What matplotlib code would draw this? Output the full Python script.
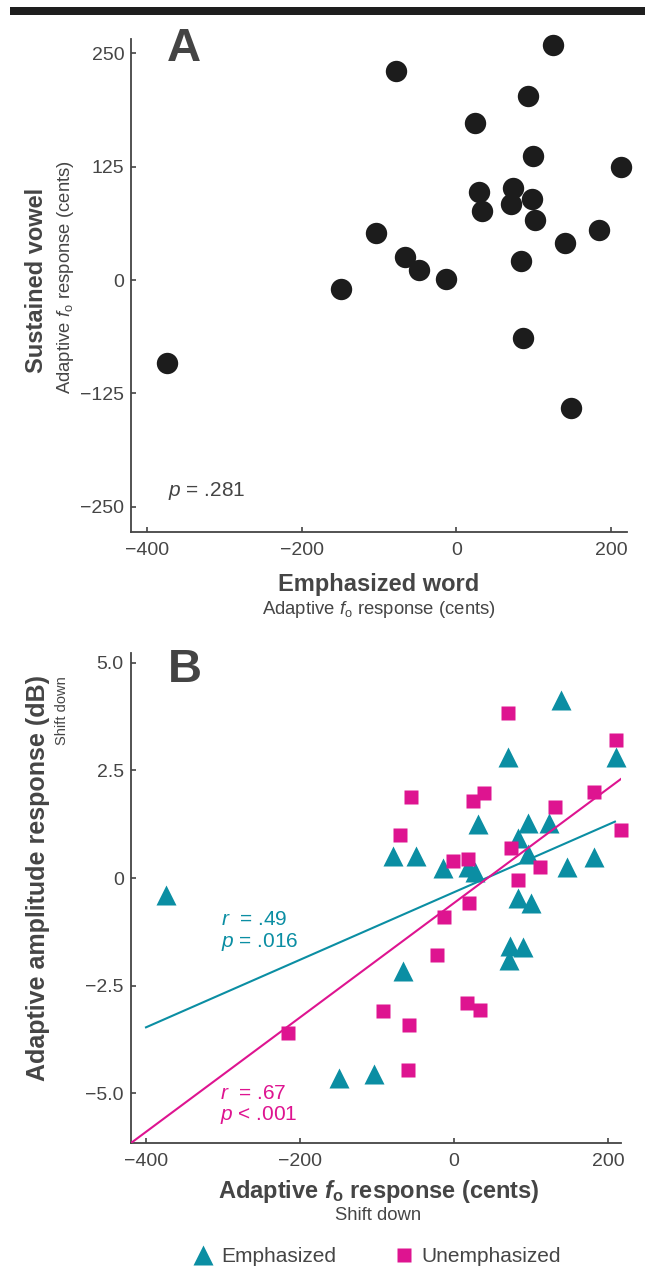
import matplotlib
matplotlib.use('Agg')
import matplotlib.pyplot as plt
from matplotlib.patches import Rectangle
from matplotlib.lines import Line2D
import numpy as np

plt.rcParams['font.family'] = ['Liberation Sans', 'DejaVu Sans']
plt.rcParams['mathtext.fontset'] = 'custom'
plt.rcParams['mathtext.rm'] = 'Liberation Sans'
plt.rcParams['mathtext.it'] = 'Liberation Sans:italic'
plt.rcParams['mathtext.bf'] = 'Liberation Sans:bold'
plt.rcParams['mathtext.bfit'] = 'Liberation Sans:bold:italic'

# ---------------- data ----------------
# Panel A: emphasized word vs sustained vowel adaptive fo response (cents)
a_emph_word = [124.7, -78.4, 93.1, 24.2, 99.2, 212.6, 29.4, 72.9, 70.3, 98.3,
               32.8, 101.8, 184.9, -104.2, 140.6, -66.3, 83.3, -48.6, -12.9,
               -148.7, -374.5, 85.9, 148.7]
a_sust_vowel = [259.2, 230.8, 202.9, 173.2, 137.1, 124.6, 97.4, 101.1, 83.5, 89.3,
                76.4, 65.8, 55.1, 51.5, 40.5, 25.4, 21.0, 11.0, 1.4,
                -10.3, -91.2, -63.6, -140.8]

# Panel B: adaptive fo response (cents) vs adaptive amplitude response (dB)
b_emph_fo = [139.0, 69.7, 210.0, 30.8, 96.5, 123.4, -78.8, -49.7, 83.5, 96.5,
             -13.9, 18.6, 27.3, 146.4, 182.2, 83.5, 99.6, 72.7, 90.0, 71.8,
             -66.6, -374.0, -149.2, -104.4]
b_emph_amp = [4.13, 2.81, 2.80, 1.25, 1.27, 1.28, 0.51, 0.51, 0.92, 0.56,
              0.23, 0.26, 0.15, 0.26, 0.49, -0.47, -0.59, -1.58, -1.59, -1.90,
              -2.15, -0.39, -4.64, -4.56]
b_unemph_fo = [69.7, 210.0, -56.2, 39.4, 25.1, 131.2, 182.2, -70.5, 216.9, 73.6,
               -0.9, 18.2, 111.7, 83.5, 19.9, -13.4, -22.1, -215.6, -92.7, -58.8,
               16.9, 34.2, -59.4]
b_unemph_amp = [3.84, 3.20, 1.87, 1.98, 1.79, 1.64, 1.99, 1.00, 1.11, 0.69,
                0.39, 0.43, 0.26, -0.05, -0.59, -0.91, -1.78, -3.59, -3.09, -3.42,
                -2.89, -3.07, -4.45]

# regression lines (slope, intercept, x-range)
emph_fit_slope, emph_fit_icpt = 0.00784, -0.33
emph_fit_range = [-400, 209]
unemph_fit_slope, unemph_fit_icpt = 0.01328, -0.58
unemph_fit_range = [-420, 218]

a_xticks = [-400, -200, 0, 200]
a_xticklabels = ['\u2212400', '\u2212200', '0', '200']
a_yticks = [250, 125, 0, -125, -250]
a_yticklabels = ['250', '125', '0', '\u2212125', '\u2212250']
b_yticks = [5.0, 2.5, 0, -2.5, -5.0]
b_yticklabels = ['5.0', '2.5', '0', '\u22122.5', '\u22125.0']

# ---------------- style ----------------
W, H = 645, 1281
TEAL = '#0B8EA3'
MAG = '#DE1490'
DARK = '#1c1c1c'
TXT = '#454545'
AX = '#444444'

fig = plt.figure(figsize=(W / 100, H / 100), dpi=100)


def fx(x):
    return x / W


def fy(y):
    return 1 - y / H


# top black bar
fig.add_artist(Rectangle((fx(10), fy(14.8)), fx(635), 7.4 / H,
                         transform=fig.transFigure, color='#1e1e1e', lw=0))


def style_axes(ax):
    for s in ['top', 'right']:
        ax.spines[s].set_visible(False)
    for s in ['left', 'bottom']:
        ax.spines[s].set_color(AX)
        ax.spines[s].set_linewidth(1.3)
    ax.tick_params(direction='in', length=3.5, width=1.2, colors=AX,
                   labelsize=14, labelcolor=TXT)
    ax.tick_params(axis='y', pad=5)
    ax.tick_params(axis='x', pad=7)


# ---------------- Panel A ----------------
axA = fig.add_axes([fx(131.3), fy(532), (626.6 - 131.3) / W, (532 - 39) / H])
style_axes(axA)
axA.plot(a_emph_word, a_sust_vowel, 'o', color=DARK, ms=15.4, mec='none',
         clip_on=False, zorder=3)
axA.set_xlim(-420.3, 220.2)
axA.set_ylim(-277.9, 265.8)
axA.set_xticks(a_xticks)
axA.set_xticklabels(a_xticklabels)
axA.set_yticks(a_yticks)
axA.set_yticklabels(a_yticklabels)
axA.text(-372.5, -232.7, '$p$ = .281', fontsize=15, color=TXT, va='center', ha='left')

fig.text(fx(184), fy(49), 'A', fontsize=34, fontweight='bold', color='#444444',
         ha='center', va='center')
fig.text(fx(37), fy(280), 'Sustained vowel', rotation=90, fontsize=17,
         fontweight='bold', color=TXT, ha='center', va='center')
fig.text(fx(65), fy(277), r'Adaptive $f_{\mathrm{o}}$ response (cents)', rotation=90,
         fontsize=13.3, color=TXT, ha='center', va='center')
fig.text(fx(379), fy(584), 'Emphasized word', fontsize=17, fontweight='bold',
         color=TXT, ha='center', va='center')
fig.text(fx(379), fy(610), r'Adaptive $f_{\mathrm{o}}$ response (cents)',
         fontsize=13.3, color=TXT, ha='center', va='center')

# ---------------- Panel B ----------------
axB = fig.add_axes([fx(130.6), fy(1143.4), (621.4 - 130.6) / W, (1143.4 - 652.7) / H])
style_axes(axB)
axB.plot(b_emph_fo, b_emph_amp, '^', color=TEAL, ms=14.4, mec='none',
         clip_on=False, zorder=3, label='Emphasized')
axB.plot(b_unemph_fo, b_unemph_amp, 's', color=MAG, ms=9.6, mec='none',
         clip_on=False, zorder=4, label='Unemphasized')
xe = np.array(emph_fit_range, dtype=float)
axB.plot(xe, emph_fit_icpt + emph_fit_slope * xe, color=TEAL, lw=1.5, zorder=5)
xu = np.array(unemph_fit_range, dtype=float)
axB.plot(xu, unemph_fit_icpt + unemph_fit_slope * xu, color=MAG, lw=1.5, zorder=5)
axB.set_xlim(-420, 217.4)
axB.set_ylim(-6.16, 5.23)
axB.set_xticks(a_xticks)
axB.set_xticklabels(a_xticklabels)
axB.set_yticks(b_yticks)
axB.set_yticklabels(b_yticklabels)
axB.text(-302.5, -1.246, '$r$  = .49\n$p$ = .016', fontsize=15, color=TEAL,
         va='center', ha='left', linespacing=1.1)
axB.text(-303.5, -5.27, '$r$  = .67\n$p$ < .001', fontsize=15, color=MAG,
         va='center', ha='left', linespacing=1.1)

fig.text(fx(184.7), fy(670), 'B', fontsize=34, fontweight='bold', color='#444444',
         ha='center', va='center')
fig.text(fx(38), fy(878), 'Adaptive amplitude response (dB)', rotation=90, fontsize=18,
         fontweight='bold', color=TXT, ha='center', va='center')
fig.text(fx(62), fy(711), 'Shift down', rotation=90, fontsize=10.5, color=TXT,
         ha='center', va='center')
fig.text(fx(379), fy(1191.7), r'Adaptive $\mathbfit{f}_{\mathbf{o}}$ response (cents)',
         fontsize=17, fontweight='bold', color=TXT, ha='center', va='center')
fig.text(fx(378), fy(1215), 'Shift down', fontsize=13.3, color=TXT,
         ha='center', va='center')

handles = [Line2D([], [], marker='^', ls='none', color=TEAL, ms=14.4, mec='none'),
           Line2D([], [], marker='s', ls='none', color=MAG, ms=9.6, mec='none')]
fig.legend(handles, ['Emphasized', 'Unemphasized'], loc='center',
           bbox_to_anchor=(fx(376), fy(1257)), ncol=2, frameon=False,
           fontsize=15, labelcolor=TXT, handletextpad=0.25, columnspacing=2.65,
           handlelength=1.2)

fig.savefig('out.png', dpi=100)
